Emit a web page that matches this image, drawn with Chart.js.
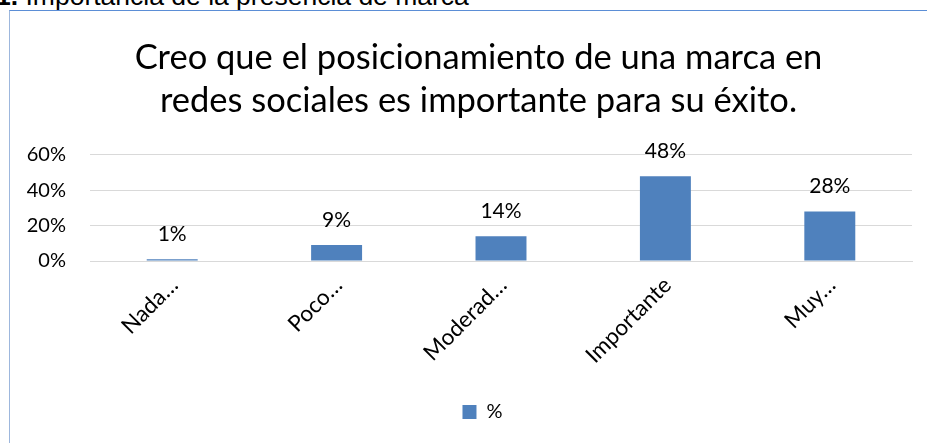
<!DOCTYPE html>
<html><head><meta charset="utf-8">
<script src="https://cdn.jsdelivr.net/npm/chart.js@4"></script>
<style>
html,body{margin:0;padding:0;background:#fff;overflow:hidden;width:927px;height:443px;}
#cap{position:absolute;left:-4px;top:-19px;font-family:"Liberation Sans",Arial,sans-serif;font-size:26.5px;line-height:30px;color:#000;white-space:nowrap;}
#box{position:absolute;left:9px;top:10px;width:930px;height:440px;border-left:1px solid #9DB7DD;border-top:1px solid #5B8ED6;box-sizing:border-box;}
#wrap{position:absolute;left:10px;top:11px;width:917px;height:432px;}
</style></head><body>
<div id="cap"><b>1.</b> Importancia de la presencia de marca</div>
<div id="box"></div>
<div id="wrap"><canvas id="c" width="917" height="432"></canvas></div>
<script>
const titleLines = ["Creo que el posicionamiento de una marca en", "redes sociales es importante para su éxito."];
const categories = ["Nada…", "Poco…", "Moderad…", "Importante", "Muy…"];
const seriesName = "%";
const values = [1, 9, 14, 48, 28];
const dataLabels = ["1%", "9%", "14%", "48%", "28%"];
const yTicks = [0, 20, 40, 60];

const FONT = "Lato, 'Open Sans', sans-serif";

const labelPlugin = {
  id: 'barLabels',
  afterLayout(chart) {
    // Excel centres title/legend over a slightly different box
    if (chart.titleBlock) { chart.titleBlock.left += 14; chart.titleBlock.right += 14; }
    if (chart.legend) { chart.legend.left += 18; chart.legend.right += 18; }
  },
  afterDatasetsDraw(chart) {
    const ctx = chart.ctx;
    const meta = chart.getDatasetMeta(0);
    ctx.save();
    ctx.font = "21px " + FONT;
    ctx.fillStyle = "#000";
    ctx.textAlign = "center";
    ctx.textBaseline = "middle";
    meta.data.forEach((bar, i) => {
      ctx.fillText(dataLabels[i], bar.x, bar.y - 25);
    });
    ctx.restore();
  }
};

new Chart(document.getElementById('c'), {
  type: 'bar',
  data: {
    labels: categories,
    datasets: [{
      label: seriesName,
      data: values,
      backgroundColor: '#4F81BD',
      borderWidth: 0,
      barPercentage: 0.62,
      categoryPercentage: 0.5
    }]
  },
  options: {
    responsive: false,
    animation: false,
    devicePixelRatio: 1,
    layout: { padding: { left: 7, right: 15, top: 14, bottom: 11 } },
    plugins: {
      title: {
        display: true,
        text: titleLines,
        color: '#000',
        font: { family: FONT, size: 34.5, weight: 'normal', lineHeight: 1.246 },
        padding: { top: 11, bottom: 33 }
      },
      legend: {
        display: true,
        position: 'bottom',
        labels: {
          color: '#000',
          font: { family: FONT, size: 20 },
          boxWidth: 14, boxHeight: 14,
          padding: 10
        }
      },
      tooltip: { enabled: false }
    },
    scales: {
      y: {
        min: 0, max: 60,
        afterBuildTicks(axis) { axis.ticks = yTicks.map(v => ({ value: v })); },
        afterFit(axis) { axis.width = 73; },
        ticks: {
          color: '#000',
          font: { family: FONT, size: 20 },
          padding: 24,
          callback: v => v + '%'
        },
        grid: { color: '#D9D9D9', lineWidth: 1, drawTicks: false },
        border: { display: false }
      },
      x: {
        afterFit(axis) { axis.height = 131; axis.paddingLeft = 0; axis.paddingRight = 0; },
        ticks: {
          color: '#000',
          font: { family: FONT, size: 22.5 },
          maxRotation: 45, minRotation: 45,
          autoSkip: false,
          labelOffset: 2,
          padding: 11
        },
        grid: { display: false, drawTicks: false },
        border: { display: true, color: '#D9D9D9', width: 1 }
      }
    }
  },
  plugins: [labelPlugin]
});
</script>
</body></html>
